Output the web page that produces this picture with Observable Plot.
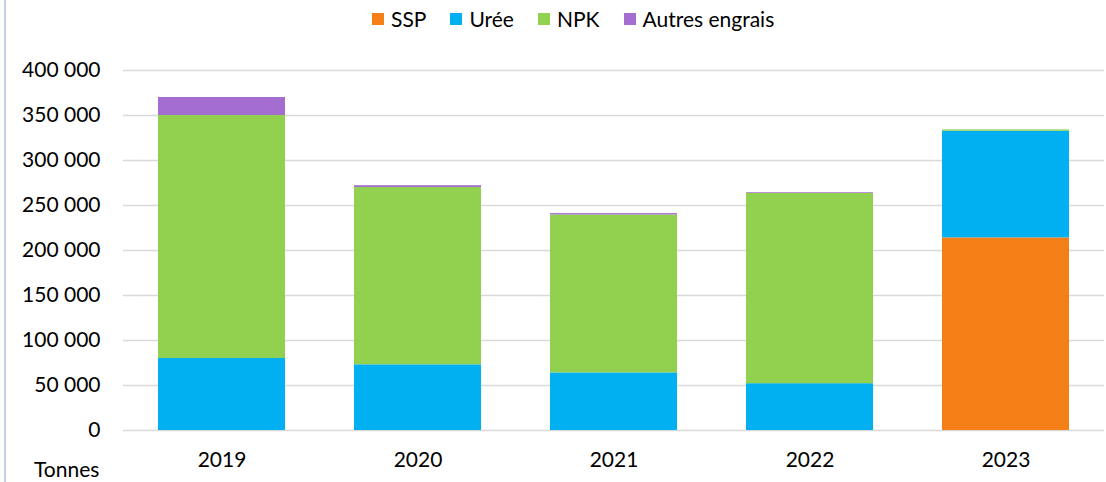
<!DOCTYPE html>
<html>
<head>
<meta charset="utf-8">
<script src="https://cdn.jsdelivr.net/npm/d3@7"></script>
<script src="https://cdn.jsdelivr.net/npm/@observablehq/plot@0.6"></script>
<style>
  html, body { margin: 0; padding: 0; background: #fff; }
  body { width: 1106px; height: 482px; position: relative; overflow: hidden; font-family: Lato, "Open Sans", sans-serif; color: #000; }
  #frame { position: absolute; left: 4px; top: 0; width: 2px; height: 482px; background: #c5d0e6; }
  #legend { position: absolute; top: 6px; left: 372px; display: flex; align-items: center; font-size: 21px; white-space: nowrap; }
  .item { display: flex; align-items: center; margin-right: 24px; }
  .sw { width: 12px; height: 12px; margin-right: 7px; }
  #chart { position: absolute; top: 40px; left: 0; }
  #unit { position: absolute; left: 34px; top: 456px; font-size: 21px; }
</style>
</head>
<body>
<div id="frame"></div>
<div id="legend"></div>
<div id="chart"></div>
<div id="unit">Tonnes</div>
<script>
const years = ["2019", "2020", "2021", "2022", "2023"];
const seriesNames = ["SSP", "Urée", "NPK", "Autres engrais"];
const ssp    = [0, 0, 0, 0, 214000];
const uree   = [80000, 73000, 64000, 52000, 118500];
const npk    = [270000, 197000, 175500, 211500, 1500];
const autres = [20000, 2000, 1500, 800, 0];
const colors = ["#f47f17", "#00b0f0", "#92d050", "#a46dd0"];
const yTicks = [0, 50000, 100000, 150000, 200000, 250000, 300000, 350000, 400000];

const valuesBySeries = [ssp, uree, npk, autres];
const data = [];
seriesNames.forEach((s, i) => {
  years.forEach((y, j) => data.push({ year: y, series: s, value: valuesBySeries[i][j] }));
});

const fmt = d3.formatLocale({ decimal: ",", thousands: " ", grouping: [3], currency: ["", ""] }).format(",d");

// legend
const legend = document.getElementById("legend");
seriesNames.forEach((s, i) => {
  const it = document.createElement("div");
  it.className = "item";
  const sw = document.createElement("div");
  sw.className = "sw";
  sw.style.background = colors[i];
  const t = document.createElement("span");
  t.textContent = s;
  it.appendChild(sw); it.appendChild(t);
  legend.appendChild(it);
});

const chart = Plot.plot({
  width: 1106,
  height: 442,
  marginLeft: 123,
  marginRight: 2,
  marginTop: 30,
  marginBottom: 52,
  style: { fontFamily: "Lato, 'Open Sans', sans-serif", fontSize: "21px", color: "#000", background: "transparent" },
  x: { domain: years, paddingInner: 0.353, paddingOuter: 0.1765, label: null, tickSize: 0, tickPadding: 22 },
  y: { domain: [0, 400000], ticks: yTicks, tickFormat: fmt, label: null, tickSize: 0, tickPadding: 23 },
  color: { domain: seriesNames, range: colors },
  marks: [
    Plot.ruleY(yTicks, { stroke: "#d9d9d9", strokeWidth: 1.5 }),
    Plot.barY(data, Plot.stackY({ order: seriesNames }, { x: "year", y: "value", fill: "series" })),
    Plot.axisX({ tickSize: 0, tickPadding: 22, fontSize: 21 }),
    Plot.axisY({ ticks: yTicks, tickFormat: fmt, tickSize: 0, tickPadding: 23, fontSize: 21 })
  ]
});
document.getElementById("chart").appendChild(chart);
</script>
</body>
</html>
